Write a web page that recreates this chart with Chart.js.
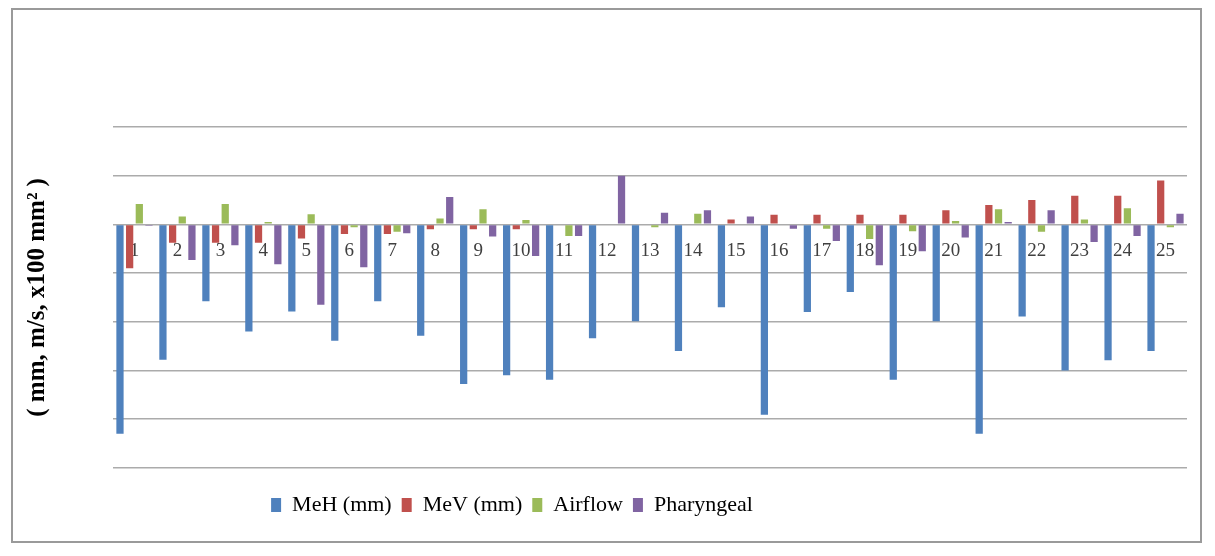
<!DOCTYPE html>
<html>
<head>
<meta charset="utf-8">
<script src="https://cdn.jsdelivr.net/npm/chart.js@4.4.0/dist/chart.umd.min.js"></script>
<style>
  html, body { margin: 0; padding: 0; background: #ffffff; }
  #frame {
    position: absolute; left: 11px; top: 8px;
    width: 1191px; height: 535px; box-sizing: border-box;
    border: 2px solid #9a9a9a; background: #fff;
  }
  #wrap { position: absolute; left: 0; top: 0; width: 1187px; height: 531px; }
</style>
</head>
<body>
<div id="frame"><div id="wrap"><canvas id="c"></canvas></div></div>
<script>
// ---- data (in gridline units) ----
const categories = ['1','2','3','4','5','6','7','8','9','10','11','12','13','14','15','16','17','18','19','20','21','22','23','24','25'];
const meH = [-4.30,-2.78,-1.58,-2.20,-1.79,-2.39,-1.58,-2.29,-3.28,-3.10,-3.19,-2.34,-1.99,-2.60,-1.70,-3.91,-1.80,-1.39,-3.19,-1.99,-4.30,-1.89,-3.00,-2.79,-2.60];
const meV = [-0.90,-0.38,-0.38,-0.38,-0.29,-0.20,-0.20,-0.10,-0.10,-0.10,0,0,0,0,0.10,0.20,0.20,0.20,0.20,0.29,0.40,0.50,0.59,0.59,0.90];
const airflow = [0.42,0.16,0.42,0.05,0.21,-0.06,-0.15,0.12,0.31,0.09,-0.24,0,-0.06,0.22,-0.02,0,-0.09,-0.30,-0.14,0.07,0.31,-0.15,0.10,0.33,-0.06];
const pharyngeal = [-0.03,-0.73,-0.43,-0.82,-1.65,-0.88,-0.18,0.56,-0.25,-0.65,-0.24,1.00,0.24,0.29,0.16,-0.09,-0.34,-0.84,-0.55,-0.27,0.05,0.29,-0.36,-0.24,0.22];
const seriesNames = ['MeH (mm)', 'MeV (mm)', 'Airflow', 'Pharyngeal'];
const yTitle = '( mm, m/s, x100 mm\u00B2 )';
const yMin = -5, yMax = 2, yStep = 1;

const colors = ['#4F81BD', '#C0504D', '#9BBB59', '#8064A2'];
const seriesData = [meH, meV, airflow, pharyngeal];

const legendShift = {
  id: 'legendShift',
  afterLayout(chart) {
    const d = -88;
    if (chart.legend) { chart.legend.left += d; chart.legend.right += d; }
  }
};

new Chart(document.getElementById('c'), {
  type: 'bar',
  data: {
    labels: categories,
    datasets: seriesNames.map((n, i) => ({
      label: n,
      data: seriesData[i],
      backgroundColor: colors[i],
      borderWidth: 0,
      categoryPercentage: 0.9,
      barPercentage: 0.75
    }))
  },
  options: {
    responsive: true,
    maintainAspectRatio: false,
    animation: false,
    layout: { padding: { top: 117, right: 13, bottom: 15, left: 0 } },
    plugins: {
      legend: {
        position: 'bottom',
        title: { display: true, text: '', font: { size: 1 }, padding: { top: 0, bottom: 15 } },
        labels: {
          boxWidth: 10, boxHeight: 14, padding: 10,
          color: '#000',
          font: { family: "'Liberation Serif', serif", size: 22 }
        }
      },
      tooltip: { enabled: false }
    },
    scales: {
      x: {
        position: { y: 0 },
        grid: { display: false, drawTicks: false },
        border: { display: false },
        ticks: {
          padding: 15,
          color: '#404040',
          font: { family: "'Liberation Serif', serif", size: 19 }
        }
      },
      y: {
        min: yMin, max: yMax,
        ticks: { stepSize: yStep, display: false },
        grid: { color: '#ababab', lineWidth: 1.6, drawTicks: false },
        border: { display: false },
        title: {
          display: true, text: yTitle, color: '#000',
          padding: { top: 10, bottom: 0 },
          font: { family: "'Liberation Serif', serif", size: 25, weight: 'bold' }
        },
        afterFit(s) { s.width = 100; }
      }
    }
  },
  plugins: [legendShift]
});
</script>
</body>
</html>
